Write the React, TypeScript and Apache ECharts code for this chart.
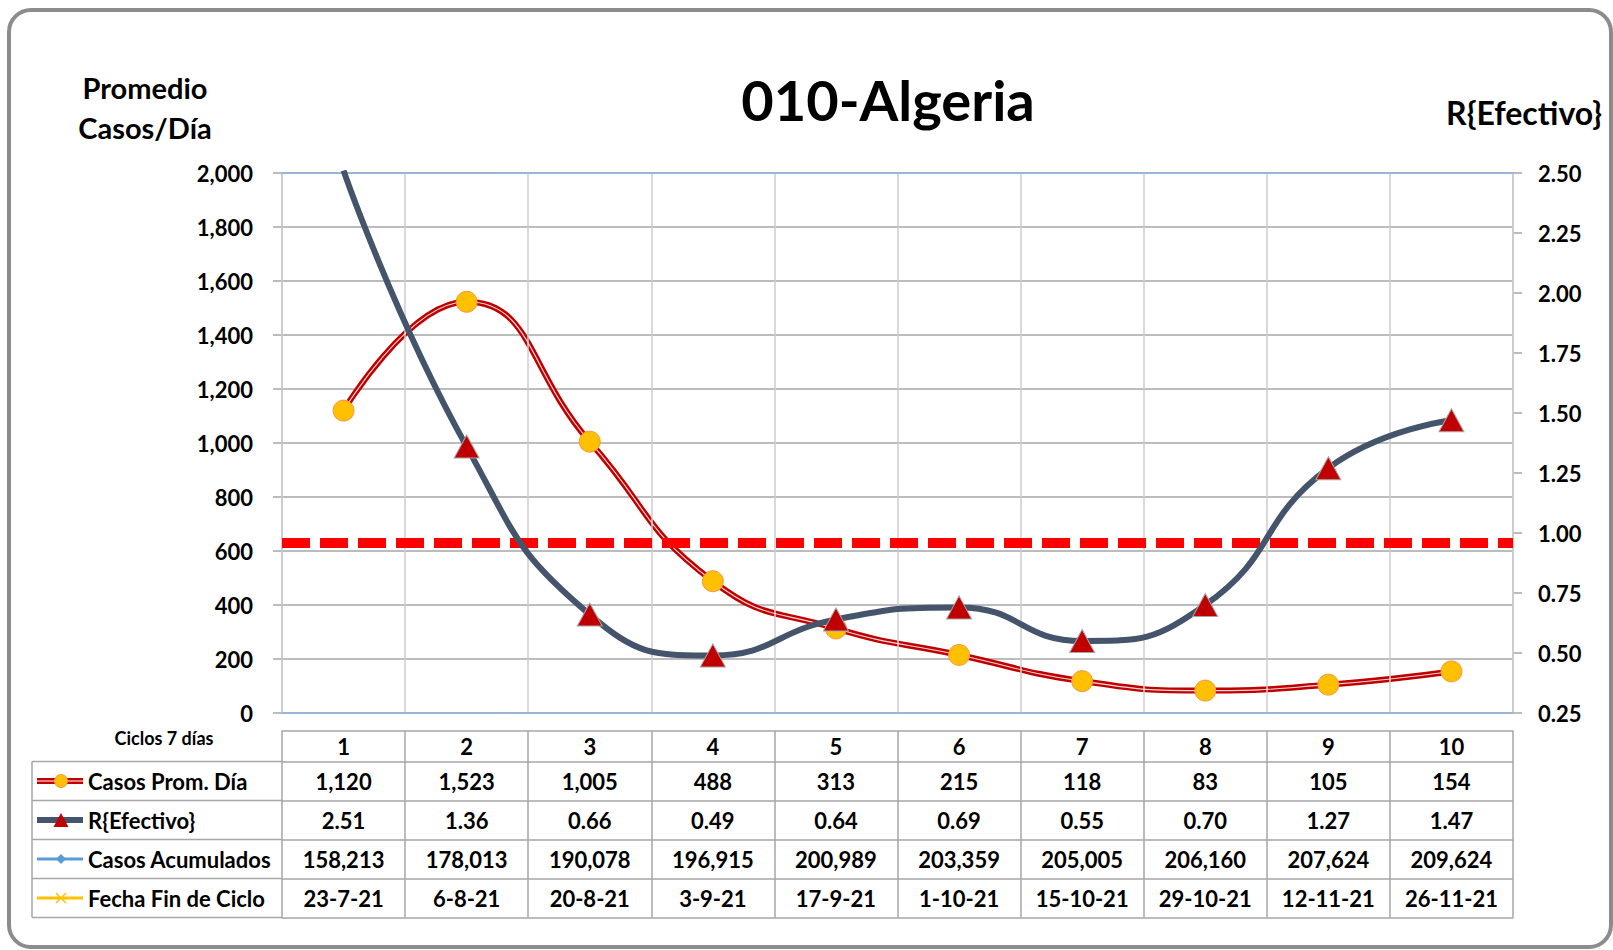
import React, { useEffect, useRef } from "react";
import * as echarts from "echarts";

const categories = ["1", "2", "3", "4", "5", "6", "7", "8", "9", "10"];
const casosPromDia = [1120, 1523, 1005, 488, 313, 215, 118, 83, 105, 154];
const rEfectivo = [2.51, 1.36, 0.66, 0.49, 0.64, 0.69, 0.55, 0.7, 1.27, 1.47];
const casosAcumulados = [158213, 178013, 190078, 196915, 200989, 203359, 205005, 206160, 207624, 209624];
const fechaFinCiclo = ["23-7-21", "6-8-21", "20-8-21", "3-9-21", "17-9-21", "1-10-21", "15-10-21", "29-10-21", "12-11-21", "26-11-21"];
const rowLabels = ["Casos Prom. Día", "R{Efectivo}", "Casos Acumulados", "Fecha Fin de Ciclo"];
const refLineR = 0.96;

const titleText = "010-Algeria";
const leftAxisName = "Promedio\nCasos/Día";
const rightAxisName = "R{Efectivo}";
const tableCorner = "Ciclos 7 días";

const FONT = "Lato";
const fmtInt = (v: number) => v.toLocaleString("en-US");
const fmtR = (v: number) => v.toFixed(2);

// layout
const GL = 282, GT = 173, GR = 1513, GB = 713;
const TABLE_LEFT = 32;
const rowLines = [731, 761.5, 800.5, 839.5, 878.5, 917.5];

function rowAxis(data: string[], top: number, bottom: number, showLabel = true, showTick = true) {
  const h = bottom - top;
  return {
    type: "category",
    gridIndex: 0,
    position: "bottom",
    offset: top - GB,
    data,
    boundaryGap: true,
    axisLine: { show: true, lineStyle: { color: "#A6A6A6", width: 1.5 } },
    axisTick: { show: showTick, interval: 0, length: h, inside: false, lineStyle: { color: "#A6A6A6", width: 1.5 } },
    axisLabel: {
      show: showLabel,
      interval: 0,
      margin: h / 2,
      verticalAlign: "middle",
      color: "#000",
      fontFamily: FONT,
      fontWeight: "bold",
      fontSize: 22,
    },
    splitLine: { show: false },
  };
}

export default function App() {
  const ref = useRef<HTMLDivElement>(null);
  useEffect(() => {
    if (!ref.current) return;
    const chart = echarts.init(ref.current, null, { renderer: "svg" });

    const rowCenters = rowLines.slice(1, 5).map((y, i) => (y + rowLines[i + 2]) / 2);

    const legendGraphics: any[] = [];
    for (let i = 1; i < rowLines.length; i++) {
      legendGraphics.push({
        type: "line",
        shape: { x1: TABLE_LEFT, y1: rowLines[i], x2: GL, y2: rowLines[i] },
        style: { stroke: "#A6A6A6", lineWidth: 1.5 },
      });
    }
    legendGraphics.push({
      type: "line",
      shape: { x1: TABLE_LEFT, y1: rowLines[1], x2: TABLE_LEFT, y2: rowLines[5] },
      style: { stroke: "#A6A6A6", lineWidth: 1.5 },
    });
    const ix1 = 37, ix2 = 83, icx = 61;
    legendGraphics.push(
      { type: "line", shape: { x1: ix1, y1: rowCenters[0], x2: ix2, y2: rowCenters[0] }, style: { stroke: "#C00000", lineWidth: 6 } },
      { type: "line", shape: { x1: ix1, y1: rowCenters[0], x2: ix2, y2: rowCenters[0] }, style: { stroke: "#FFFFFF", lineWidth: 1.2 } },
      { type: "circle", shape: { cx: icx, cy: rowCenters[0], r: 6.5 }, style: { fill: "#FFC000", stroke: "#F79646", lineWidth: 1 } }
    );
    legendGraphics.push(
      { type: "line", shape: { x1: ix1, y1: rowCenters[1], x2: ix2, y2: rowCenters[1] }, style: { stroke: "#44546A", lineWidth: 6 } },
      {
        type: "polygon",
        shape: { points: [[icx, rowCenters[1] - 7], [icx - 7.5, rowCenters[1] + 7], [icx + 7.5, rowCenters[1] + 7]] },
        style: { fill: "#C00000" },
      }
    );
    legendGraphics.push(
      { type: "line", shape: { x1: ix1, y1: rowCenters[2], x2: ix2, y2: rowCenters[2] }, style: { stroke: "#5B9BD5", lineWidth: 3 } },
      {
        type: "polygon",
        shape: { points: [[icx, rowCenters[2] - 5], [icx + 5, rowCenters[2]], [icx, rowCenters[2] + 5], [icx - 5, rowCenters[2]]] },
        style: { fill: "#5B9BD5" },
      }
    );
    legendGraphics.push(
      { type: "line", shape: { x1: ix1, y1: rowCenters[3], x2: ix2, y2: rowCenters[3] }, style: { stroke: "#FFC000", lineWidth: 3 } },
      { type: "line", shape: { x1: icx - 5, y1: rowCenters[3] - 5, x2: icx + 5, y2: rowCenters[3] + 5 }, style: { stroke: "#FFC000", lineWidth: 1.5 } },
      { type: "line", shape: { x1: icx - 5, y1: rowCenters[3] + 5, x2: icx + 5, y2: rowCenters[3] - 5 }, style: { stroke: "#FFC000", lineWidth: 1.5 } }
    );
    rowLabels.forEach((t, i) => {
      legendGraphics.push({
        type: "text",
        x: 88,
        y: rowCenters[i],
        style: { text: t, fontFamily: FONT, fontWeight: "bold", fontSize: 22, fill: "#000", align: "left", verticalAlign: "middle" },
      });
    });

    const option: any = {
      animation: false,
      backgroundColor: "#ffffff",
      grid: { left: GL, top: GT, right: 1613 - GR, bottom: 950 - GB, containLabel: false },
      xAxis: [
        {
          type: "category",
          gridIndex: 0,
          position: "bottom",
          data: categories,
          boundaryGap: true,
          axisLine: { show: true, lineStyle: { color: "#8DB4E2", width: 1.5 } },
          axisTick: { show: false },
          axisLabel: { show: false },
          splitLine: { show: true, interval: 0, lineStyle: { color: "#CCCCCC", width: 1.5 } },
          z: 3,
        },
        {
          type: "category",
          gridIndex: 0,
          position: "top",
          data: categories,
          boundaryGap: true,
          axisLine: { show: true, lineStyle: { color: "#8DB4E2", width: 1.5 } },
          axisTick: { show: false },
          axisLabel: { show: false },
          splitLine: { show: false },
          z: 3,
        },
        rowAxis(categories, rowLines[0], rowLines[1]),
        rowAxis(casosPromDia.map(fmtInt), rowLines[1], rowLines[2]),
        rowAxis(rEfectivo.map(fmtR), rowLines[2], rowLines[3]),
        rowAxis(casosAcumulados.map(fmtInt), rowLines[3], rowLines[4]),
        rowAxis(fechaFinCiclo, rowLines[4], rowLines[5]),
        rowAxis(categories, rowLines[5], rowLines[5] + 10, false, false),
      ],
      yAxis: [
        {
          type: "value",
          position: "left",
          min: 0,
          max: 2000,
          interval: 200,
          axisLine: { show: true, lineStyle: { color: "#BFBFBF", width: 1.5 } },
          axisTick: { show: true, length: 9, lineStyle: { color: "#A6A6A6", width: 1.5 } },
          axisLabel: { margin: 29, formatter: (v: number) => fmtInt(v), color: "#000", fontFamily: FONT, fontWeight: "bold", fontSize: 22 },
          splitLine: { show: true, lineStyle: { color: "#A6A6A6", width: 1.5 } },
        },
        {
          type: "value",
          position: "right",
          min: 0.25,
          max: 2.5,
          interval: 0.25,
          axisLine: { show: true, lineStyle: { color: "#BFBFBF", width: 1.5 } },
          axisTick: { show: true, length: 9, lineStyle: { color: "#A6A6A6", width: 1.5 } },
          axisLabel: { margin: 25, formatter: (v: number) => fmtR(v), color: "#000", fontFamily: FONT, fontWeight: "bold", fontSize: 22 },
          splitLine: { show: false },
        },
      ],
      series: [
        {
          name: "Umbral",
          type: "line",
          xAxisIndex: 0,
          yAxisIndex: 1,
          data: [],
          z: 1,
          markLine: {
            silent: true,
            symbol: "none",
            label: { show: false },
            lineStyle: { color: "#FF0000", width: 10, type: [28, 10], cap: "butt" },
            data: [{ yAxis: refLineR }],
          },
        },
        {
          name: "Casos Prom. Día",
          type: "line",
          xAxisIndex: 0,
          yAxisIndex: 0,
          data: casosPromDia,
          smooth: 0.5,
          symbol: "none",
          lineStyle: { color: "#C00000", width: 6 },
          z: 2,
        },
        {
          name: "Casos Prom. Día (interior)",
          type: "line",
          xAxisIndex: 0,
          yAxisIndex: 0,
          data: casosPromDia,
          smooth: 0.5,
          symbol: "none",
          lineStyle: { color: "#FFFFFF", width: 1.1, opacity: 0.85 },
          z: 3,
        },
        {
          name: "Casos Prom. Día (marcadores)",
          type: "line",
          xAxisIndex: 0,
          yAxisIndex: 0,
          data: casosPromDia,
          symbol: "circle",
          symbolSize: 21,
          showSymbol: true,
          lineStyle: { width: 0, opacity: 0 },
          itemStyle: { color: "#FFC000", borderColor: "#F79646", borderWidth: 1 },
          z: 4,
        },
        {
          name: "R{Efectivo}",
          type: "line",
          xAxisIndex: 0,
          yAxisIndex: 1,
          data: rEfectivo,
          smooth: 0.5,
          clip: true,
          symbol: "triangle",
          symbolSize: [25, 23],
          showSymbol: true,
          lineStyle: { color: "#44546A", width: 6 },
          itemStyle: { color: "#C00000", borderColor: "#A5A5A5", borderWidth: 1 },
          z: 5,
        },
      ],
      graphic: [
        {
          type: "rect",
          shape: { x: 9, y: 10, width: 1602, height: 937, r: 22 },
          style: { fill: "none", stroke: "#8C8C8C", lineWidth: 4 },
          z: -10,
        },
        {
          type: "text",
          x: 888,
          y: 99,
          style: { text: titleText, fontFamily: FONT, fontWeight: "bold", fontSize: 56, fill: "#000", align: "center", verticalAlign: "middle" },
        },
        {
          type: "text",
          x: 145,
          y: 107,
          style: { text: leftAxisName, fontFamily: FONT, fontWeight: "bold", fontSize: 29, lineHeight: 40, fill: "#000", align: "center", verticalAlign: "middle" },
        },
        {
          type: "text",
          x: 1524,
          y: 112,
          style: { text: rightAxisName, fontFamily: FONT, fontWeight: "bold", fontSize: 32, fill: "#000", align: "center", verticalAlign: "middle" },
        },
        {
          type: "text",
          x: 164,
          y: 738,
          style: { text: tableCorner, fontFamily: FONT, fontWeight: "bold", fontSize: 18, fill: "#000", align: "center", verticalAlign: "middle" },
        },
        ...legendGraphics,
      ],
    };
    chart.setOption(option);
    return () => chart.dispose();
  }, []);
  return <div ref={ref} style={{ position: "fixed", left: 0, top: 0, width: 1613, height: 950, background: "#fff" }} />;
}
